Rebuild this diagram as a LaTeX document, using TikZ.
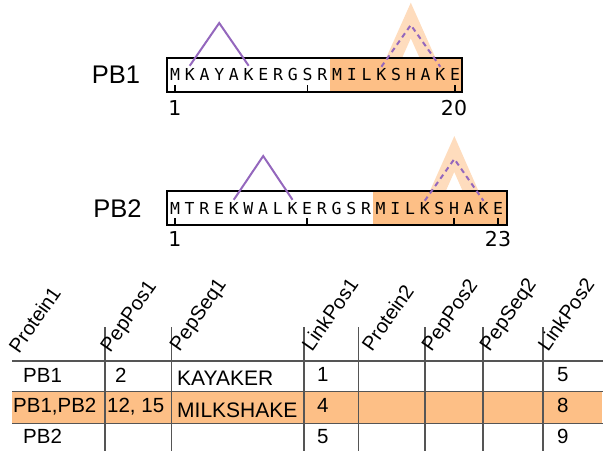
\documentclass[tikz,border=0pt]{standalone}
\usepackage{fontspec}
\setmainfont{Liberation Sans}
\newfontfamily\seqfont{DejaVu Sans Mono}
\newfontfamily\numfont{DejaVu Sans}
\definecolor{hl}{RGB}{253,191,134}
\definecolor{xlc}{RGB}{148,103,189}
\definecolor{gridc}{RGB}{85,85,85}
\newcommand{\hdrtext}[1]{\rotatebox{55}{#1}}
\begin{document}
\begin{tikzpicture}[x=1pt,y=-1pt,
  seqletter/.style={anchor=base,inner sep=0pt,font=\seqfont\fontsize{16.5}{16.5}\selectfont},
  seqbox/.style={draw=black,line width=2pt,inner sep=0pt},
  tickline/.style={draw=black,line width=1.6pt},
  numlabel/.style={anchor=base,inner sep=0pt,font=\numfont\fontsize{20.5}{20.5}\selectfont},
  protlabel/.style={anchor=base,inner sep=0pt,font=\fontsize{25.5}{25.5}\selectfont},
  xlink/.style={draw=xlc,line width=2pt},
  xlinkdash/.style={draw=xlc,line width=2pt,dash pattern=on 5pt off 4pt},
  halo/.style={draw=hl,line width=14.5pt,opacity=0.55,miter limit=10},
  tline/.style={draw=gridc,line width=1.2pt},
  hdr/.style={anchor=base west,inner sep=0pt,xshift=-12pt,font=\fontsize{20}{20}\selectfont},
  cell/.style={anchor=base west,inner sep=0pt,font=\fontsize{20.5}{20.5}\selectfont},
  cellseq/.style={anchor=base west,inner sep=0pt,font=\fontsize{21}{21}\selectfont}]
\useasboundingbox (0,0) rectangle (608,451);

% ---------------- PB1 ----------------
\foreach \c [count=\i] in {M,K,A,Y,A,K,E,R,G,S,R,M,I,L,K,S,H,A,K,E}
  \path (175+\i*14.74-14.74,80.5) coordinate (c1\i);
\coordinate (h1apex) at (410.8,20.5);
\draw[halo] ([yshift=-6pt]c115) -- (h1apex) -- ([yshift=-6pt]c119);
\fill[hl] (329.8,58.3) rectangle (461.7,91.7);
\node[seqbox,minimum width=295pt,minimum height=33.4pt] (box1) at (314.2,75) {};
\foreach \c [count=\i] in {M,K,A,Y,A,K,E,R,G,S,R,M,I,L,K,S,H,A,K,E}
  \node[seqletter] (p1l\i) at (c1\i) {\c};
\foreach \i in {1,10,20}
  \draw[tickline] (p1l\i |- box1.south) -- ++(0,-8);
\node[protlabel] (pb1) at (116,83.3) {PB1};
\node[numlabel] (n1a) at (175,115) {1};
\node[numlabel] (n1b) at (454,115) {20};
\coordinate (x1apex) at (219.2,23);
\draw[xlink] ([yshift=2.5pt]p1l2.north) -- (x1apex) -- ([yshift=2.5pt]p1l6.north);
\coordinate (d1apex) at (410.8,25);
\draw[xlinkdash] ([yshift=1.5pt]p1l15.north) -- (d1apex) -- ([yshift=1.5pt]p1l19.north);

% ---------------- PB2 ----------------
\foreach \c [count=\i] in {M,T,R,E,K,W,A,L,K,E,R,G,S,R,M,I,L,K,S,H,A,K,E}
  \path (175+\i*14.69-14.69,214.5) coordinate (c2\i);
\coordinate (h2apex) at (454.3,154);
\draw[halo] ([yshift=-6pt]c218) -- (h2apex) -- ([yshift=-6pt]c222);
\fill[hl] (373,191) rectangle (507,225);
\node[seqbox,minimum width=340pt,minimum height=34pt] (box2) at (337,208) {};
\foreach \c [count=\i] in {M,T,R,E,K,W,A,L,K,E,R,G,S,R,M,I,L,K,S,H,A,K,E}
  \node[seqletter] (p2l\i) at (c2\i) {\c};
\foreach \i in {1,10,20,23}
  \draw[tickline] (p2l\i |- box2.south) -- ++(0,-8);
\node[protlabel] (pb2) at (117.5,217) {PB2};
\node[numlabel] (n2a) at (175,246) {1};
\node[numlabel] (n2b) at (498,246) {23};
\coordinate (x2apex) at (263.2,156);
\draw[xlink] ([yshift=2.5pt]p2l5.north) -- (x2apex) -- ([yshift=2.5pt]p2l9.north);
\coordinate (d2apex) at (454.3,159);
\draw[xlinkdash] ([yshift=1.5pt]p2l18.north) -- (d2apex) -- ([yshift=1.5pt]p2l22.north);

% ---------------- Table ----------------
\fill[hl] (12,391) rectangle (602,423);
\draw[tline] (12,361) -- (603,361);
\draw[tline,line width=0.8pt] (12,391) -- (603,391);
\draw[tline,line width=0.8pt] (12,423) -- (603,423);
\foreach \x in {105,171.5,304,358.5,425,483,543}
  \draw[tline] (\x,327) -- (\x,451);

\node[hdr] (hP1) at (19,354) {\hdrtext{Protein1}};
\node[hdr] (hPP1) at (111,353) {\hdrtext{PepPos1}};
\node[hdr] (hPS1) at (180,352) {\hdrtext{PepSeq1}};
\node[hdr] (hL1) at (312,352) {\hdrtext{LinkPos1}};
\node[hdr] (hP2) at (372,352) {\hdrtext{Protein2}};
\node[hdr] (hPP2) at (432,352) {\hdrtext{PepPos2}};
\node[hdr] (hPS2) at (490,352) {\hdrtext{PepSeq2}};
\node[hdr] (hL2) at (548,352) {\hdrtext{LinkPos2}};

\node[cell] (r1a) at (23,382) {PB1};
\node[cell] (r1b) at (115,382) {2};
\node[cellseq] (r1c) at (177,385) {KAYAKER};
\node[cell] (r1d) at (317,381) {1};
\node[cell] (r1e) at (557,381) {5};

\node[cell] (r2a) at (13,412) {PB1,PB2};
\node[cell] (r2b) at (107,412) {12, 15};
\node[cellseq] (r2c) at (177,417) {MILKSHAKE};
\node[cell] (r2d) at (317,412) {4};
\node[cell] (r2e) at (557,412) {8};

\node[cell] (r3a) at (23,443) {PB2};
\node[cell] (r3d) at (317,443) {5};
\node[cell] (r3e) at (557,443) {9};
\end{tikzpicture}
\end{document}
